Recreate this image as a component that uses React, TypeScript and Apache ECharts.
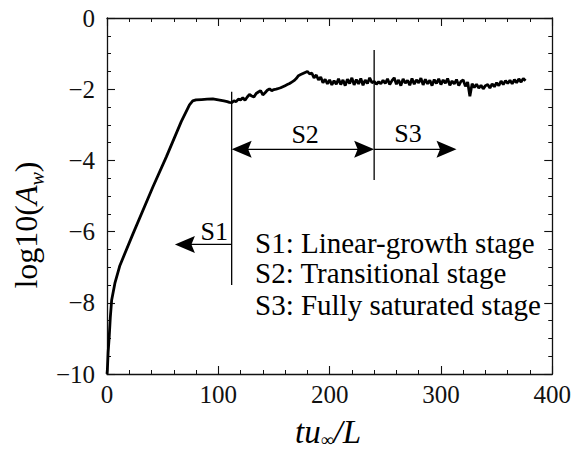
import React, { useEffect, useRef } from "react";
import * as echarts from "echarts";

// Growth (S1) part and early plateau: time and log10(Aw)
const growthT = [0, 0.3, 1, 2, 3, 4.2, 7.1, 11.6, 23.5, 41.3, 53.3, 66.7, 74.1, 77, 80, 85, 90, 95, 100, 105, 108, 110];
const growthV = [-10, -9.9, -9.4, -8.95, -8.4, -7.92, -7.45, -6.95, -6.05, -4.74, -3.9, -2.91, -2.44, -2.33, -2.3, -2.29, -2.28, -2.27, -2.3, -2.33, -2.35, -2.37];

// Noisy part (S2, S3), sampled every 2 time units from t = 112
const noiseStart = 112;
const noiseStep = 2;
const noiseV = [
  -2.38, -2.33, -2.35, -2.28, -2.3, -2.24, -2.31, -2.22, -2.15, -2.19,
  -2.22, -2.12, -2.08, -2.04, -2.16, -2.1, -2.03, -1.99, -2.04, -2.01,
  -2.0, -1.98, -1.96, -1.93, -1.9, -1.87, -1.84, -1.8, -1.76, -1.7,
  -1.62, -1.59, -1.56, -1.53, -1.5, -1.57, -1.55, -1.68, -1.6, -1.74,
  -1.66, -1.82, -1.72, -1.85, -1.74, -1.88, -1.76, -1.86, -1.71, -1.87,
  -1.74, -1.9, -1.72, -1.84, -1.68, -1.88, -1.73, -1.85, -1.7, -1.89,
  -1.74, -1.84, -1.68, -1.82, -1.78, -1.86, -1.79, -1.85, -1.75, -1.84,
  -1.71, -1.87, -1.76, -1.68, -1.86, -1.74, -1.9, -1.71, -1.83, -1.75,
  -1.89, -1.7, -1.86, -1.74, -1.82, -1.69, -1.88, -1.72, -1.85, -1.75,
  -1.9, -1.73, -1.84, -1.71, -1.87, -1.74, -1.83, -1.7, -1.89, -1.77,
  -1.85, -1.73, -1.9, -1.78, -1.74, -1.92, -1.8, -2.2, -1.85, -1.95,
  -1.86, -1.97, -1.89, -1.99, -1.9, -1.87, -1.97, -1.85, -1.93, -1.82,
  -1.9, -1.77, -1.87, -1.76, -1.84, -1.75, -1.85, -1.73, -1.82, -1.71,
  -1.8, -1.7, -1.76,
];

// Axis ticks
const xTicks = { min: 0, max: 400, interval: 100 };
const yTicks = { min: -10, max: 0, interval: 2 };

// Stage annotations (data coordinates)
const stageLines = [
  { t: 112, top: -2.07, bottom: -7.5 },
  { t: 240, top: -0.9, bottom: -4.55 },
];
const stageArrows = [
  { from: 112, to: 61, v: -6.36, both: false },
  { from: 112, to: 240, v: -3.69, both: true },
  { from: 240, to: 314, v: -3.69, both: false },
];
const stageLabels = [
  { text: "S1", t: 96.4, v: -6.0 },
  { text: "S2", t: 178, v: -3.26 },
  { text: "S3", t: 270.5, v: -3.24 },
];
const legendLines = [
  "S1: Linear-growth stage",
  "S2: Transitional stage",
  "S3: Fully saturated stage",
];

const FONT = "Liberation Serif";

export default function App() {
  const ref = useRef<HTMLDivElement>(null);
  useEffect(() => {
    const chart = echarts.init(ref.current!, null, { renderer: "svg" });

    const lineData: number[][] = [];
    growthT.forEach((t, i) => lineData.push([t, growthV[i]]));
    noiseV.forEach((v, i) => lineData.push([noiseStart + i * noiseStep, v]));

    const axisLine = { show: true, onZero: false, lineStyle: { color: "#111", width: 1.3 } };
    const axisTick = { show: true, inside: true, length: 8, lineStyle: { color: "#111", width: 1.1 } };

    const renderAnno = (params: any, api: any) => {
      const children: any[] = [];
      stageLines.forEach((l) => {
        const p1 = api.coord([l.t, l.top]);
        const p2 = api.coord([l.t, l.bottom]);
        children.push({
          type: "line",
          shape: { x1: p1[0], y1: p1[1], x2: p2[0], y2: p2[1] },
          style: { stroke: "#000", lineWidth: 1.3 },
        });
      });
      const head = (tip: number[], dir: number[]) => {
        const L = 20, W = 8.5, N = 16.5;
        const nx = -dir[1], ny = dir[0];
        const bx = tip[0] - dir[0] * L, by = tip[1] - dir[1] * L;
        return {
          type: "polygon",
          shape: {
            points: [
              [tip[0], tip[1]],
              [bx + nx * W, by + ny * W],
              [tip[0] - dir[0] * N, tip[1] - dir[1] * N],
              [bx - nx * W, by - ny * W],
            ],
          },
          style: { fill: "#000" },
        };
      };
      stageArrows.forEach((a) => {
        const p1 = api.coord([a.from, a.v]);
        const p2 = api.coord([a.to, a.v]);
        const dx = p2[0] - p1[0], dy = p2[1] - p1[1];
        const len = Math.sqrt(dx * dx + dy * dy);
        const d = [dx / len, dy / len];
        const s1 = a.both ? [p1[0] + d[0] * 15, p1[1] + d[1] * 15] : p1;
        const s2 = [p2[0] - d[0] * 15, p2[1] - d[1] * 15];
        children.push({
          type: "line",
          shape: { x1: s1[0], y1: s1[1], x2: s2[0], y2: s2[1] },
          style: { stroke: "#000", lineWidth: 1.3 },
        });
        children.push(head(p2, d));
        if (a.both) children.push(head(p1, [-d[0], -d[1]]));
      });
      stageLabels.forEach((s) => {
        const p = api.coord([s.t, s.v]);
        children.push({
          type: "text",
          x: p[0],
          y: p[1],
          style: {
            text: "{n|" + s.text + "}",
            fill: "#000",
            align: "center",
            verticalAlign: "middle",
            textAlign: "center",
            textVerticalAlign: "middle",
            rich: { n: { fontSize: 26, fontFamily: FONT } },
          },
        });
      });
      return { type: "group", children };
    };

    const option: any = {
      animation: false,
      backgroundColor: "#fff",
      textStyle: { fontFamily: FONT },
      grid: { left: 107, right: 19, top: 18, bottom: 79, containLabel: false },
      xAxis: [
        {
          type: "value",
          ...xTicks,
          position: "bottom",
          axisLine,
          axisTick,
          minorTick: { show: true, splitNumber: 5, length: 4, lineStyle: { color: "#111", width: 1 } },
          splitLine: { show: false },
          minorSplitLine: { show: false },
          axisLabel: { fontSize: 25, fontFamily: FONT, color: "#111", margin: 8 },
        },
        {
          type: "value",
          ...xTicks,
          position: "top",
          axisLine,
          axisTick,
          minorTick: { show: true, splitNumber: 5, length: 4, lineStyle: { color: "#111", width: 1 } },
          splitLine: { show: false },
          axisLabel: { show: false },
        },
      ],
      yAxis: [
        {
          type: "value",
          ...yTicks,
          position: "left",
          axisLine,
          axisTick,
          minorTick: { show: true, splitNumber: 4, length: 4, lineStyle: { color: "#111", width: 1 } },
          splitLine: { show: false },
          minorSplitLine: { show: false },
          axisLabel: {
            fontSize: 25,
            fontFamily: FONT,
            color: "#111",
            margin: 12,
            formatter: (v: number) => (v < 0 ? "\u2212" + Math.abs(v) : String(v)),
          },
        },
        {
          type: "value",
          ...yTicks,
          position: "right",
          axisLine,
          axisTick,
          minorTick: { show: true, splitNumber: 4, length: 4, lineStyle: { color: "#111", width: 1 } },
          splitLine: { show: false },
          axisLabel: { show: false },
        },
      ],
      series: [
        {
          type: "line",
          data: lineData,
          showSymbol: false,
          symbol: "none",
          lineStyle: { color: "#000", width: 2.8 },
          z: 4,
        },
        {
          type: "custom",
          coordinateSystem: "cartesian2d",
          data: [[0, 0]],
          renderItem: renderAnno,
          silent: true,
          z: 3,
        },
      ],
      graphic: [
        {
          type: "text",
          x: 27,
          y: 225,
          rotation: Math.PI / 2,
          style: {
            text: "{n|log10(}{i|A}{s|w}{n|)}",
            fill: "#000",
            align: "center",
            verticalAlign: "middle",
            textAlign: "center",
            textVerticalAlign: "middle",
            rich: {
              n: { fontSize: 32, fontFamily: FONT, verticalAlign: "top", lineHeight: 34 },
              i: { fontSize: 32, fontFamily: FONT, fontStyle: "italic", verticalAlign: "top", lineHeight: 34 },
              s: { fontSize: 20, fontFamily: FONT, fontStyle: "italic", verticalAlign: "top", lineHeight: 20, padding: [17, 0, 0, 0] },
            },
          },
        },
        {
          type: "text",
          x: 328,
          y: 432,
          style: {
            text: "{i|tu}{s|\u221e}{i|/L}",
            fill: "#000",
            align: "center",
            verticalAlign: "middle",
            textAlign: "center",
            textVerticalAlign: "middle",
            rich: {
              i: { fontSize: 33, fontFamily: FONT, fontStyle: "italic", verticalAlign: "top", lineHeight: 34 },
              s: { fontSize: 18, fontFamily: FONT, verticalAlign: "top", lineHeight: 18, padding: [16, 0, 0, 0] },
            },
          },
        },
        ...legendLines.map((txt, i) => ({
          type: "text",
          x: 255,
          y: [243, 273, 305][i],
          style: {
            text: "{n|" + txt + "}",
            fill: "#000",
            align: "left",
            verticalAlign: "middle",
            textAlign: "left",
            textVerticalAlign: "middle",
            rich: { n: { fontSize: 29, fontFamily: FONT } },
          },
        })),
      ],
    };

    chart.setOption(option);
    return () => chart.dispose();
  }, []);
  return (
    <div
      ref={ref}
      style={{ position: "fixed", left: 0, top: 0, width: 574, height: 453, background: "#fff" }}
    />
  );
}
